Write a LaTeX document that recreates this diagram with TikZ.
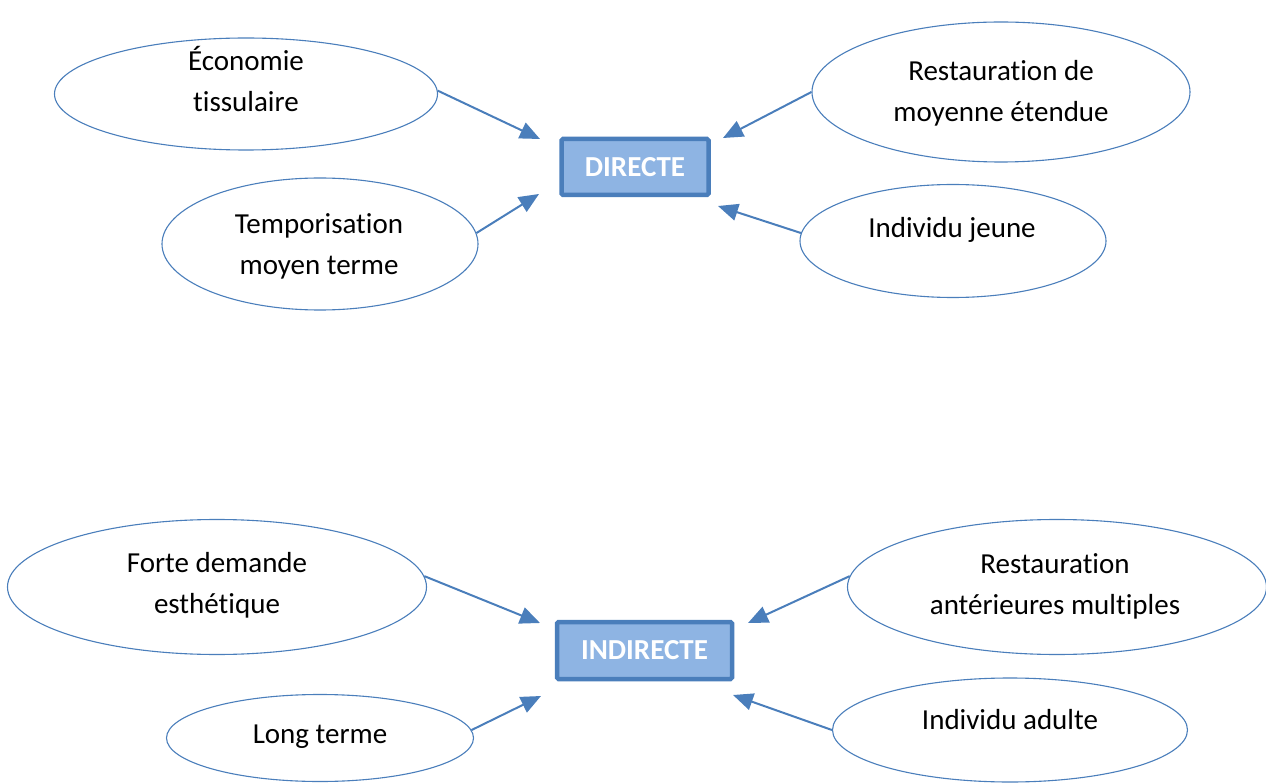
\documentclass[tikz,border=0pt]{standalone}
\usepackage{fontspec}
\setmainfont{Carlito}[RawFeature={-liga;-clig;-calt}]
\usetikzlibrary{shapes.geometric,arrows.meta}
\definecolor{obl}{HTML}{4A7EBB}
\definecolor{boxfill}{HTML}{8EB4E3}
\begin{document}
\begin{tikzpicture}[x=1pt,y=-1pt,
  oval/.style={ellipse,draw=obl,line width=1.1pt,inner sep=0pt,fill=white},
  lbl/.style={align=center,font=\fontsize{29}{41}\selectfont,inner sep=0pt},
  cat/.style={rectangle,draw=obl,line width=4.5pt,fill=boxfill,rounded corners=1.5pt,
    text=white,font=\fontsize{29}{35}\selectfont\bfseries,inner sep=0pt},
  arr/.style={draw=obl,line width=2pt,-{Triangle[length=20pt,width=17pt]}}]
\useasboundingbox (0,0) rectangle (1266,783);

% DIRECTE group
\node[oval,minimum width=383,minimum height=112] (e1) at (246,94) {};
\node[lbl] (t1) at (246,79) {Économie\\tissulaire};
\node[oval,minimum width=316,minimum height=132] (e2) at (320,244) {};
\node[lbl] (t2) at (319,246) {Temporisation\\moyen terme};
\node[oval,minimum width=378,minimum height=140] (e3) at (1001,92) {};
\node[lbl] (t3) at (1001,93) {Restauration de\\moyenne étendue};
\node[oval,minimum width=306,minimum height=113] (e4) at (953,241) {};
\node[lbl] (t4) at (952,230) {Individu jeune};
\node[cat,minimum width=147,minimum height=56] (d) at (635,167) {DIRECTE};

\coordinate (a1) at (540,139);
\coordinate (a2) at (539,194);
\coordinate (a3) at (723,138);
\coordinate (a4) at (718,206);
\draw[arr] (e1.1) -- (a1);
\draw[arr] (e2.4) -- (a2);
\draw[arr] (e3.180) -- (a3);
\draw[arr] (e4.177) -- (a4);

% INDIRECTE group
\node[oval,minimum width=419,minimum height=135] (e5) at (217,587) {};
\node[lbl] (t5) at (217,585) {Forte demande\\esthétique};
\node[oval,minimum width=307,minimum height=87] (e6) at (320,738) {};
\node[lbl] (t6) at (320,737) {Long terme};
\node[oval,minimum width=419,minimum height=135] (e7) at (1057,587) {};
\node[lbl] (t7) at (1055,586) {Restauration\\antérieures multiples};
\node[oval,minimum width=355,minimum height=104] (e8) at (1010,730) {};
\node[lbl] (t8) at (1010,720) {Individu adulte};
\node[cat,minimum width=175,minimum height=57] (i) at (644.5,650.5) {INDIRECTE};

\coordinate (b1) at (540,623);
\coordinate (b2) at (541,696);
\coordinate (b3) at (748,623);
\coordinate (b4) at (733,695);
\draw[arr] (e5.3) -- (b1);
\draw[arr] (e6.3) -- (b2);
\draw[arr] (e7.177) -- (b3);
\draw[arr] (e8.180) -- (b4);
\end{tikzpicture}
\end{document}
